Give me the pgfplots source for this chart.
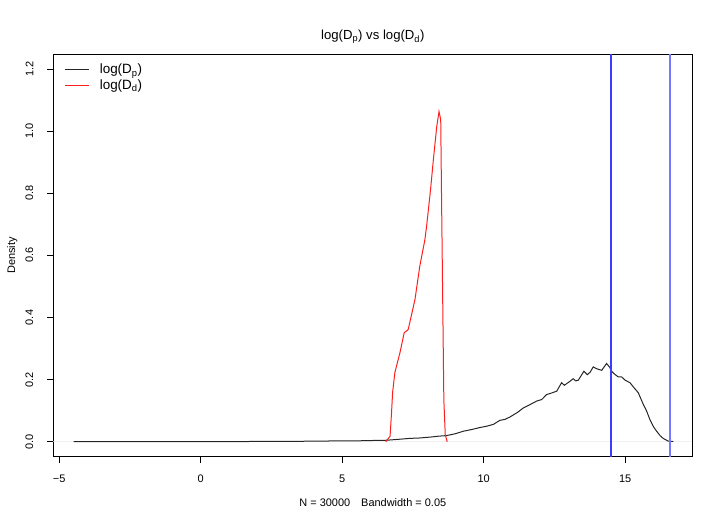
\documentclass[border=0pt]{standalone}
\usepackage{pgfplots}
\pgfplotsset{compat=1.18}
\usepackage{fontspec}
\setmainfont{Liberation Sans}
\definecolor{refblue}{RGB}{60,60,250}
\definecolor{refbluelight}{RGB}{120,120,255}
\definecolor{densred}{RGB}{255,30,30}

\begin{document}
\begin{tikzpicture}
\useasboundingbox (0bp,0bp) rectangle (720bp,524bp);
\begin{axis}[
    at={(53.3bp,67.3bp)}, anchor=south west,
    scale only axis, width=639bp, height=402.7bp,
    xmin=-5.21, xmax=17.37,
    ymin=-0.048, ymax=1.248,
    xtick={-5,0,5,10,15},
    xticklabels={−5,0,5,10,15},
    ytick={0,0.2,0.4,0.6,0.8,1.0,1.2},
    tick pos=left,
    tick align=outside,
    major tick length=6.5bp,
    axis line style={line width=0.8bp},
    tick style={line width=0.8bp, black},
    every tick label/.append style={font=\fontsize{11}{13}\selectfont},
    /pgf/number format/assume math mode=true,
    every x tick label/.append style={yshift=-8bp},
    every y tick label/.append style={rotate=90, anchor=south, yshift=10bp},
    yticklabel style={/pgf/number format/.cd, fixed, fixed zerofill, precision=1},
    title={log(D\textsubscript{p}) vs log(D\textsubscript{d})},
    title style={at={(axis description cs:0.5,1.028)}, anchor=center, yshift=0pt,
        font=\fontsize{13.2}{15}\selectfont},
    xlabel={N = 30000\hspace{1em}Bandwidth = 0.05},
    xlabel style={at={(axis description cs:0.5,-0.114)}, anchor=center,
        font=\fontsize{11}{13}\selectfont},
    ylabel={Density},
    ylabel style={at={(axis description cs:-0.064,0.5)}, anchor=center,
        font=\fontsize{11}{13}\selectfont},
    legend style={draw=none, fill=none, at={(axis description cs:0.013,0.985)},
        anchor=north west, font=\fontsize{13.5}{16}\selectfont,
        row sep=0.5bp},
    legend cell align=left,
    legend image code/.code={\draw[#1] (0bp,0bp) -- (24bp,0bp); \path (32bp,0bp);},
]

% zero line
\addplot[gray!12, line width=0.8bp, forget plot] coordinates {(-5.21,0) (17.37,0)};

% density of log(Dp)
\addplot[color=black!85, line width=1bp] coordinates {
    (-4.49,0.0002) (-3,0.0002) (-1,0.0003) (0,0.0004) (1,0.0007) (2,0.001)
    (3,0.0012) (4,0.002) (5,0.003) (5.5,0.003) (6,0.004) (6.57,0.005)
    (7,0.008) (7.39,0.011) (7.7,0.012) (8.10,0.015) (8.4,0.018) (8.69,0.020)
    (9.0,0.026) (9.28,0.034) (9.6,0.040) (9.87,0.046) (10.1,0.050) (10.34,0.056)
    (10.57,0.069) (10.75,0.072) (10.93,0.080) (11.2,0.095) (11.40,0.109)
    (11.6,0.118) (11.87,0.131) (12.05,0.136) (12.22,0.152) (12.40,0.157)
    (12.58,0.163) (12.75,0.190) (12.85,0.182) (12.93,0.187) (13.05,0.195)
    (13.16,0.203) (13.25,0.196) (13.34,0.198) (13.54,0.227) (13.66,0.216)
    (13.76,0.224) (13.87,0.241) (13.99,0.235) (14.17,0.230) (14.34,0.252)
    (14.45,0.240) (14.52,0.227) (14.62,0.218) (14.75,0.209) (14.87,0.209)
    (15.0,0.198) (15.17,0.190) (15.30,0.175) (15.46,0.158) (15.64,0.120)
    (15.75,0.100) (15.87,0.072) (16.0,0.048) (16.11,0.034) (16.23,0.020)
    (16.34,0.011) (16.52,0.002) (16.70,0.001)
};
\addlegendentry{log(D\textsubscript{p})}

% density of log(Dd)
\addplot[color=densred, line width=1bp] coordinates {
    (6.54,0) (6.69,0.018) (6.74,0.09) (6.78,0.159) (6.86,0.223) (7.04,0.287)
    (7.19,0.351) (7.33,0.361) (7.57,0.458) (7.74,0.565) (7.92,0.650)
    (7.98,0.693) (8.12,0.811) (8.22,0.908) (8.34,1.015) (8.42,1.063)
    (8.48,1.036) (8.51,0.779) (8.55,0.458) (8.59,0.136) (8.64,0.023) (8.71,0)
};
\addlegendentry{log(D\textsubscript{d})}

% reference lines
\addplot[color=refblue, line width=1.8bp, forget plot] coordinates {(14.51,-0.048) (14.51,1.248)};
\addplot[color=refbluelight, line width=1.4bp, forget plot] coordinates {(16.58,-0.048) (16.58,1.248)};

\end{axis}
\end{tikzpicture}
\end{document}
